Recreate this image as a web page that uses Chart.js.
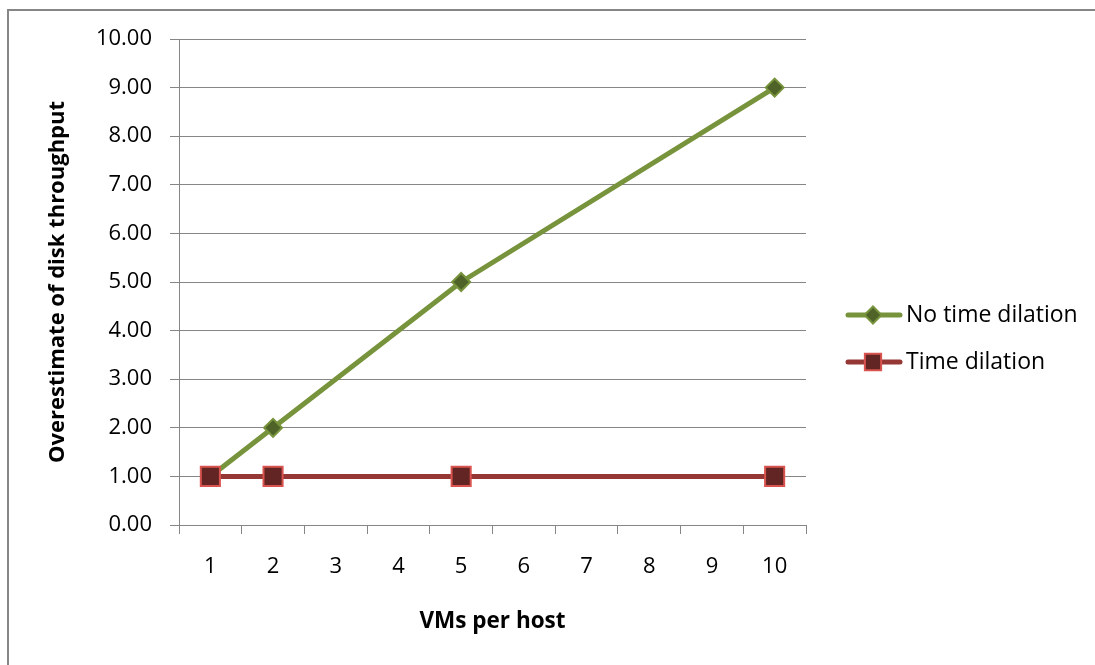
<!DOCTYPE html>
<html>
<head>
<meta charset="utf-8">
<script src="https://cdn.jsdelivr.net/npm/chart.js@4/dist/chart.umd.min.js"></script>
<style>
html,body{margin:0;padding:0;background:#fff;}
#wrap{width:1095px;height:665px;position:relative;}
</style>
</head>
<body>
<div id="wrap"><canvas id="c" width="1095" height="665"></canvas></div>
<script>
const categories = ['1','2','3','4','5','6','7','8','9','10'];
const noTimeDilation = [1, 2, null, null, 5, null, null, null, null, 9];
const timeDilation = [1, 1, null, null, 1, null, null, null, null, 1];
const seriesNames = ['No time dilation', 'Time dilation'];
const yTitle = 'Overestimate of disk throughput';
const xTitle = 'VMs per host';

const FONT = "'Open Sans', 'Liberation Sans', sans-serif";

const frame = {
  id: 'frame',
  beforeDraw(chart) {
    const ctx = chart.ctx;
    ctx.save();
    ctx.strokeStyle = '#868686';
    ctx.lineWidth = 2;
    ctx.beginPath();
    ctx.moveTo(8, 665);
    ctx.lineTo(8, 10);
    ctx.lineTo(1095, 10);
    ctx.stroke();
    ctx.restore();
  }
};

const customLegend = {
  id: 'customLegend',
  afterDraw(chart) {
    const ctx = chart.ctx;
    const ys = [315, 362];
    chart.data.datasets.forEach((ds, i) => {
      const y = ys[i];
      ctx.save();
      ctx.strokeStyle = ds.borderColor;
      ctx.lineWidth = ds.borderWidth;
      ctx.lineCap = 'round';
      ctx.beginPath();
      ctx.moveTo(848, y);
      ctx.lineTo(900, y);
      ctx.stroke();
      Chart.helpers.drawPoint(ctx, {
        pointStyle: ds.pointStyle,
        radius: ds.pointStyle === 'rect' ? 11.5 : 8.5,
        rotation: 0
      }, 873, y);
      ctx.fillStyle = ds.pointBackgroundColor;
      ctx.strokeStyle = ds.pointBorderColor;
      ctx.lineWidth = ds.pointBorderWidth;
      ctx.fill();
      ctx.stroke();
      ctx.fillStyle = '#000';
      ctx.font = '23px ' + FONT;
      ctx.textBaseline = 'middle';
      ctx.textAlign = 'left';
      ctx.fillText(ds.label, 906, y);
      ctx.restore();
    });
  }
};

new Chart(document.getElementById('c'), {
  type: 'line',
  data: {
    labels: categories,
    datasets: [
      {
        label: seriesNames[0],
        data: noTimeDilation,
        order: 1,
        borderColor: '#77933C',
        borderWidth: 5,
        pointStyle: 'rectRot',
        pointRadius: 9,
        pointHoverRadius: 9,
        pointBackgroundColor: '#4F6228',
        pointBorderColor: '#77933C',
        pointBorderWidth: 2,
        spanGaps: true,
        tension: 0
      },
      {
        label: seriesNames[1],
        data: timeDilation,
        order: 0,
        borderColor: '#953735',
        borderWidth: 5,
        pointStyle: 'rect',
        pointRadius: 13.5,
        pointHoverRadius: 13.5,
        pointBackgroundColor: '#632523',
        pointBorderColor: '#D9534F',
        pointBorderWidth: 2,
        spanGaps: true,
        tension: 0
      }
    ]
  },
  options: {
    responsive: false,
    animation: false,
    devicePixelRatio: 1,
    layout: { padding: { left: 0, top: 39, right: 289, bottom: 0 } },
    plugins: { legend: { display: false }, tooltip: { enabled: false } },
    scales: {
      x: {
        offset: true,
        grid: {
          offset: true,
          drawOnChartArea: false,
          drawTicks: true,
          tickLength: 9,
          color: '#868686',
          lineWidth: 1
        },
        border: { color: '#868686', width: 1 },
        ticks: {
          color: '#000',
          font: { family: FONT, size: 22 },
          padding: 20,
          maxRotation: 0,
          autoSkip: false
        },
        title: {
          display: true,
          text: xTitle,
          color: '#000',
          font: { family: FONT, size: 22.5, weight: 'bold' },
          padding: { top: 0, bottom: 30 }
        },
        afterFit(scale) { scale.height = 665 - 525; }
      },
      y: {
        min: 0,
        max: 10,
        grid: {
          color: '#868686',
          lineWidth: 1,
          tickLength: 9
        },
        border: { color: '#868686', width: 1 },
        ticks: {
          stepSize: 1,
          color: '#000',
          font: { family: FONT, size: 22 },
          padding: 18,
          callback: (v) => Number(v).toFixed(2)
        },
        title: {
          display: true,
          text: yTitle,
          color: '#000',
          font: { family: FONT, size: 22, weight: 'bold' },
          padding: { top: 45, bottom: 0 }
        },
        afterFit(scale) { scale.width = 179; }
      }
    }
  },
  plugins: [frame, customLegend]
});
</script>
</body>
</html>
